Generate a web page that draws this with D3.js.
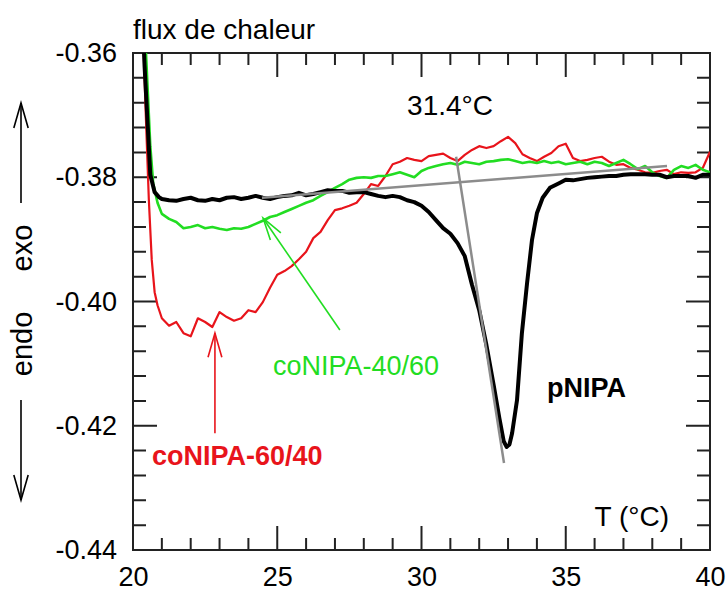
<!DOCTYPE html>
<html>
<head>
<meta charset="utf-8">
<script src="https://cdn.jsdelivr.net/npm/d3@7"></script>
<style>
  body { margin: 0; background: #fff; }
  svg { display: block; font-family: "Liberation Sans", Arial, sans-serif; }
</style>
</head>
<body>
<div id="target"></div>
<script>
// axis ticks
const xMajor = [20, 25, 30, 35, 40];
const xMinor = [21, 22, 23, 24, 26, 27, 28, 29, 31, 32, 33, 34, 36, 37, 38, 39];
const yMajor = [-0.44, -0.42, -0.40, -0.38, -0.36];
const yMinor = [-0.436, -0.432, -0.428, -0.424, -0.416, -0.412, -0.408, -0.404,
  -0.396, -0.392, -0.388, -0.384, -0.376, -0.372, -0.368, -0.364];

// heat flux curves [T (°C), flux]
const pNIPA = [[20.30,-0.3500],[20.40,-0.3620],[20.50,-0.3708],[20.60,-0.3796],[20.75,-0.3824],[20.90,-0.3832],
  [21.00,-0.3835],[21.25,-0.3837],[21.50,-0.3838],[21.75,-0.3835],[22.00,-0.3833],[22.25,-0.3837],[22.50,-0.3838],
  [22.75,-0.3835],[23.00,-0.3837],[23.25,-0.3833],[23.50,-0.3832],[23.75,-0.3835],[24.00,-0.3833],[24.25,-0.3830],
  [24.50,-0.3833],[24.75,-0.3835],[25.00,-0.3832],[25.25,-0.3830],[25.50,-0.3829],[25.75,-0.3825],[26.00,-0.3829],
  [26.25,-0.3827],[26.50,-0.3824],[26.75,-0.3821],[27.00,-0.3822],[27.25,-0.3822],[27.50,-0.3825],[27.75,-0.3824],
  [28.00,-0.3824],[28.25,-0.3827],[28.50,-0.3830],[28.75,-0.3832],[29.00,-0.3830],[29.25,-0.3832],[29.50,-0.3837],
  [29.75,-0.3840],[30.00,-0.3846],[30.25,-0.3856],[30.50,-0.3869],[30.75,-0.3882],[31.00,-0.3891],[31.25,-0.3906],
  [31.50,-0.3927],[31.75,-0.3973],[32.00,-0.4014],[32.25,-0.4070],[32.50,-0.4134],[32.70,-0.4188],[32.85,-0.4225],
  [32.95,-0.4234],[33.05,-0.4230],[33.14,-0.4212],[33.31,-0.4159],[33.48,-0.4051],[33.66,-0.3970],[33.83,-0.3901],
  [34.00,-0.3858],[34.20,-0.3833],[34.45,-0.3817],[34.75,-0.3810],[35.00,-0.3804],[35.25,-0.3805],[35.50,-0.3803],
  [35.75,-0.3801],[36.00,-0.3800],[36.25,-0.3799],[36.50,-0.3798],[36.75,-0.3798],[37.00,-0.3796],[37.25,-0.3795],
  [37.50,-0.3795],[37.75,-0.3795],[38.00,-0.3796],[38.25,-0.3796],[38.50,-0.3800],[38.75,-0.3798],[39.00,-0.3798],
  [39.25,-0.3798],[39.50,-0.3801],[39.75,-0.3796],[40.00,-0.3796]];

const co4060 = [[20.35,-0.3500],[20.50,-0.3650],[20.60,-0.3750],[20.70,-0.3810],[20.85,-0.3841],
  [21.00,-0.3859],[21.25,-0.3867],[21.50,-0.3872],[21.75,-0.3882],[22.00,-0.3880],[22.25,-0.3877],[22.50,-0.3882],
  [22.75,-0.3880],[23.00,-0.3883],[23.25,-0.3885],[23.50,-0.3882],[23.75,-0.3883],[24.00,-0.3880],[24.25,-0.3875],
  [24.50,-0.3870],[24.75,-0.3864],[25.00,-0.3861],[25.25,-0.3856],[25.50,-0.3851],[25.75,-0.3846],[26.00,-0.3841],
  [26.25,-0.3837],[26.50,-0.3830],[26.75,-0.3824],[27.00,-0.3817],[27.25,-0.3811],[27.50,-0.3804],[27.75,-0.3801],
  [28.00,-0.3800],[28.25,-0.3801],[28.50,-0.3798],[28.75,-0.3798],[29.00,-0.3795],[29.25,-0.3792],[29.50,-0.3796],
  [29.75,-0.3800],[30.00,-0.3790],[30.25,-0.3785],[30.50,-0.3782],[30.75,-0.3779],[31.00,-0.3777],[31.25,-0.3780],
  [31.50,-0.3775],[31.75,-0.3777],[32.00,-0.3779],[32.25,-0.3775],[32.50,-0.3774],[32.75,-0.3772],[33.00,-0.3771],
  [33.25,-0.3774],[33.50,-0.3777],[33.75,-0.3775],[34.00,-0.3777],[34.25,-0.3774],[34.50,-0.3777],[34.75,-0.3775],
  [35.00,-0.3779],[35.25,-0.3777],[35.50,-0.3775],[35.75,-0.3779],[36.00,-0.3775],[36.25,-0.3777],[36.50,-0.3782],
  [36.75,-0.3777],[37.00,-0.3772],[37.25,-0.3779],[37.50,-0.3787],[37.75,-0.3782],[38.00,-0.3792],[38.25,-0.3798],
  [38.50,-0.3801],[38.75,-0.3788],[39.00,-0.3782],[39.25,-0.3785],[39.50,-0.3780],[39.75,-0.3788],[40.00,-0.3792]];

const co6040 = [[20.30,-0.3500],[20.45,-0.3708],[20.55,-0.3837],[20.65,-0.3933],[20.75,-0.3985],[20.85,-0.4006],
  [21.00,-0.4027],[21.25,-0.4039],[21.50,-0.4033],[21.75,-0.4051],[22.00,-0.4056],[22.25,-0.4027],[22.50,-0.4033],
  [22.75,-0.4041],[23.00,-0.4017],[23.25,-0.4025],[23.50,-0.4031],[23.75,-0.4027],[24.00,-0.4014],[24.25,-0.4017],
  [24.50,-0.4001],[24.75,-0.3978],[25.00,-0.3957],[25.25,-0.3951],[25.50,-0.3943],[25.75,-0.3932],[26.00,-0.3920],
  [26.25,-0.3898],[26.50,-0.3888],[26.75,-0.3869],[27.00,-0.3853],[27.25,-0.3850],[27.50,-0.3846],[27.75,-0.3841],
  [28.00,-0.3827],[28.25,-0.3811],[28.50,-0.3814],[28.75,-0.3798],[29.00,-0.3779],[29.25,-0.3775],[29.50,-0.3769],
  [29.75,-0.3772],[30.00,-0.3774],[30.25,-0.3766],[30.50,-0.3764],[30.75,-0.3762],[31.00,-0.3769],[31.25,-0.3774],
  [31.50,-0.3764],[31.75,-0.3756],[32.00,-0.3750],[32.25,-0.3753],[32.50,-0.3750],[32.75,-0.3742],[33.00,-0.3735],
  [33.25,-0.3745],[33.50,-0.3763],[33.75,-0.3769],[34.00,-0.3774],[34.25,-0.3767],[34.50,-0.3761],[34.75,-0.3750],
  [35.00,-0.3746],[35.25,-0.3769],[35.50,-0.3774],[35.75,-0.3772],[36.00,-0.3769],[36.25,-0.3767],[36.50,-0.3775],
  [36.75,-0.3780],[37.00,-0.3779],[37.25,-0.3785],[37.50,-0.3788],[37.75,-0.3792],[38.00,-0.3793],[38.25,-0.3790],
  [38.50,-0.3788],[38.75,-0.3795],[39.00,-0.3792],[39.25,-0.3793],[39.50,-0.3792],[39.75,-0.3785],[40.00,-0.3759]];

// tangent construction for onset 31.4°C
const baseline = [[24.47, -0.3833], [38.51, -0.3782]];
const tangent = [[31.20, -0.3767], [32.86, -0.4260]];

const width = 728, height = 591;
const x = d3.scaleLinear().domain([20, 40]).range([133, 710]);
const y = d3.scaleLinear().domain([-0.44, -0.36]).range([550, 53]);
const pLeft = 133, pRight = 710, pBottom = 550, pTop = 53;

const svg = d3.select("#target").append("svg")
  .attr("width", width)
  .attr("height", height);

svg.append("clipPath").attr("id", "plot")
  .append("rect")
  .attr("x", pLeft).attr("y", pTop)
  .attr("width", pRight - pLeft).attr("height", pBottom - pTop);

// frame and inward tick marks on all four sides, as one path
let tp = d3.path();
tp.rect(pLeft, pTop, pRight - pLeft, pBottom - pTop);
xMajor.map(v => [v, 24]).concat(xMinor.map(v => [v, 12])).forEach(([v, len]) => {
  tp.moveTo(x(v), pBottom); tp.lineTo(x(v), pBottom - len);
  tp.moveTo(x(v), pTop); tp.lineTo(x(v), pTop + len);
});
yMajor.map(v => [v, 24]).concat(yMinor.map(v => [v, 13])).forEach(([v, len]) => {
  tp.moveTo(pLeft, y(v)); tp.lineTo(pLeft + len, y(v));
  tp.moveTo(pRight, y(v)); tp.lineTo(pRight - len, y(v));
});
svg.append("path")
  .attr("d", tp.toString())
  .attr("fill", "none")
  .attr("stroke", "#222")
  .attr("stroke-width", 2);

// tick labels through the axis generators
svg.append("g").attr("transform", `translate(0,${pBottom})`)
  .call(d3.axisBottom(x).tickValues(xMajor).tickSize(0).tickPadding(17).tickFormat(d => d))
  .call(g => g.select(".domain").remove())
  .call(g => g.selectAll("text").attr("font-size", 27).attr("fill", "#000"));
svg.append("g").attr("transform", `translate(${pLeft},0)`)
  .call(d3.axisLeft(y).tickValues(yMajor).tickSize(0).tickPadding(16).tickFormat(d => d.toFixed(2)))
  .call(g => g.select(".domain").remove())
  .call(g => g.selectAll("text").attr("font-size", 27).attr("fill", "#000"));

// curves
let line = d3.line()
  .x(d => x(d[0]))
  .y(d => y(d[1]));
let curves = svg.append("g").attr("clip-path", "url(#plot)");
curves.append("path").datum(co6040)
  .attr("d", line).attr("fill", "none")
  .attr("stroke", "#e8141b").attr("stroke-width", 2.2).attr("stroke-linejoin", "round");
curves.append("path").datum(co4060)
  .attr("d", line).attr("fill", "none")
  .attr("stroke", "#22dd22").attr("stroke-width", 2.6).attr("stroke-linejoin", "round");
curves.append("path").datum(pNIPA)
  .attr("d", line).attr("fill", "none")
  .attr("stroke", "#000").attr("stroke-width", 4).attr("stroke-linejoin", "round");
[baseline, tangent].forEach(t => {
  curves.append("path").datum(t)
    .attr("d", line).attr("fill", "none")
    .attr("stroke", "#8c8c8c").attr("stroke-width", 2.5);
});

// open arrow, tip at (bx, by)
function arrow(ax, ay, bx, by, color, len) {
  const a = Math.atan2(ay - by, ax - bx), s = 0.28;
  const g = svg.append("g").attr("stroke", color).attr("stroke-width", 1.6).attr("fill", "none");
  g.append("line").attr("x1", ax).attr("y1", ay).attr("x2", bx).attr("y2", by);
  g.append("polyline").attr("points", [
    [bx + len * Math.cos(a - s), by + len * Math.sin(a - s)],
    [bx, by],
    [bx + len * Math.cos(a + s), by + len * Math.sin(a + s)]
  ].map(p => p.join(",")).join(" "));
}
arrow(x(27.17), y(-0.4046), x(24.51), y(-0.3866), "#22dd22", 23);
arrow(x(22.84), y(-0.4212), x(22.84), y(-0.4051), "#e8141b", 25);
arrow(21, 203, 21, 103, "#000", 26);
arrow(21, 400, 21, 500, "#000", 26);

function label(px, py, txt, size, color, weight) {
  return svg.append("text")
    .attr("x", px).attr("y", py)
    .attr("font-size", size)
    .attr("font-weight", weight || "normal")
    .attr("fill", color)
    .text(txt);
}
label(133, 39, "flux de chaleur", 28, "#000");
label(x(29.5), y(-0.3699), "31.4°C", 28, "#000");
label(x(24.85), y(-0.4118), "coNIPA-40/60", 27, "#22dd22");
label(x(20.66), y(-0.4263), "coNIPA-60/40", 27, "#e8141b", "bold");
label(x(34.35), y(-0.4154), "pNIPA", 27, "#000", "bold");
label(x(36.0), y(-0.43615), "T (°C)", 28, "#000");

svg.append("text")
  .attr("transform", "translate(32,248) rotate(-90)")
  .attr("text-anchor", "middle")
  .attr("font-size", 29)
  .text("exo");
svg.append("text")
  .attr("transform", "translate(32,344) rotate(-90)")
  .attr("text-anchor", "middle")
  .attr("font-size", 29)
  .text("endo");
</script>
</body>
</html>
